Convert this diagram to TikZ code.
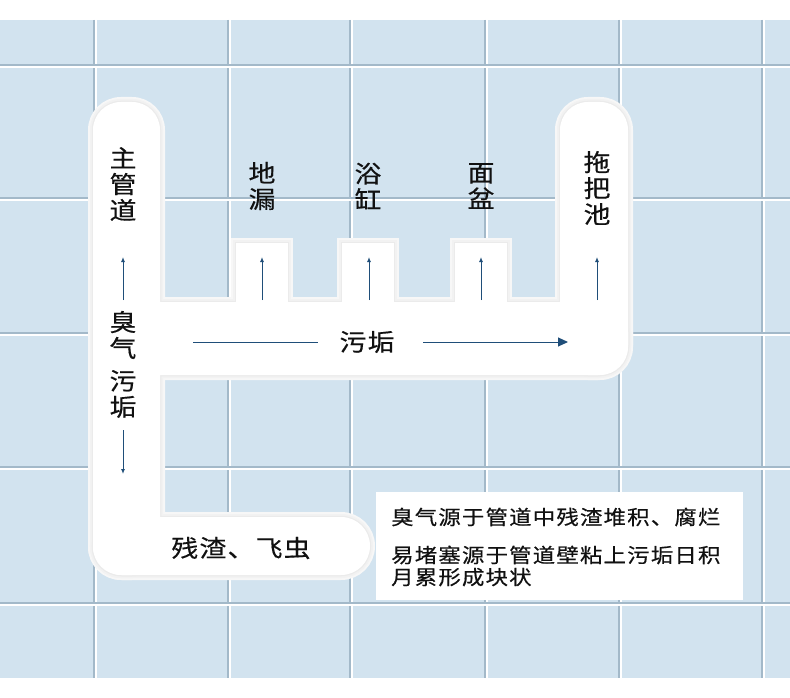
\documentclass[tikz,border=0pt]{standalone}
\usepackage{fontspec}
\setmainfont[FakeStretch=1.12,FakeBold=0.4]{Noto Sans CJK SC}
\usetikzlibrary{arrows.meta}
\definecolor{tile}{HTML}{D2E3EF}
\definecolor{grout}{HTML}{A3B9C9}
\definecolor{arr}{HTML}{1F4E79}
\definecolor{ink}{HTML}{111111}
\newcommand\pipeparts[1]{%
  \path[#1, rounded corners=28pt] (93,102) rectangle (160,575);
  \path[#1, rounded corners=29pt] (93,517) rectangle (370,575);
  \path[#1, rounded corners=30pt] (93,302) rectangle (628,375);
  \path[#1, rounded corners=28pt] (560,102) rectangle (628,375);
  \path[#1] (236,243) rectangle (288,310);
  \path[#1] (342,243) rectangle (394,310);
  \path[#1] (455,243) rectangle (507,310);
}
\begin{document}
\begin{tikzpicture}[x=1pt,y=-1pt,
  vtext/.style={align=center, text=ink, inner sep=0pt, font=\fontsize{24}{26}\selectfont},
  htext/.style={text=ink, inner sep=0pt, font=\fontsize{24}{26}\selectfont\addfontfeatures{LetterSpace=5}},
  boxtext/.style={text=ink, inner sep=0pt, anchor=west, align=left, font=\fontsize{20}{22}\selectfont\addfontfeatures{LetterSpace=6}},
  uparr/.style={draw=arr, line width=1pt, -{Latex[length=5pt,width=4pt]}},
  bigarr/.style={draw=arr, line width=1pt, -{Triangle[length=10pt,width=9pt]}},
  plain/.style={draw=arr, line width=1pt}]
\useasboundingbox (0,0) rectangle (790,698);
\fill[white] (0,0) rectangle (790,698);
\fill[tile] (0,20) rectangle (790,678);
\foreach \x in {94,228,350,485,619,762} {
  \draw[grout, line width=2pt] (\x,20) -- (\x,678);
  \draw[white, line width=1.2pt] (\x+2,20) -- (\x+2,678);
}
\foreach \y in {65,198,333,467,603} {
  \draw[grout, line width=2pt] (0,\y) -- (790,\y);
  \draw[white, line width=1.2pt] (0,\y+2) -- (790,\y+2);
}
% pipe with soft shadow
\pipeparts{draw=black!3, line width=10pt}
\pipeparts{draw=black!5, line width=6pt}
\pipeparts{draw=black!8, line width=2.5pt}
\pipeparts{fill=white}
% note box
\fill[white] (376,492) rectangle (743,600);
% labels
\node[vtext] (main) at (123,184) {主\\管\\道};
\node[vtext] (drain) at (262,186) {地\\漏};
\node[vtext] (tub) at (368,186) {浴\\缸};
\node[vtext] (basin) at (481,186) {面\\盆};
\node[vtext] (mop) at (597,188) {拖\\把\\池};
\node[vtext] (smell) at (123,335) {臭\\气};
\node[vtext] (dirtv) at (123,394) {污\\垢};
\node[htext] (dirth) at (367,342) {污垢};
\node[htext] (debris) at (241,548) {残渣、飞虫};
\node[boxtext] (note1) at (391,517) {臭气源于管道中残渣堆积、腐烂};
\node[boxtext] (note2) at (391,566) {易堵塞源于管道壁粘上污垢日积\\月累形成块状};
% arrows
\coordinate (m0) at (123,300); \coordinate (m1) at (123,257);
\coordinate (d0) at (262,300); \coordinate (d1) at (262,257);
\coordinate (t0) at (369,300); \coordinate (t1) at (369,257);
\coordinate (b0) at (481,300); \coordinate (b1) at (481,257);
\coordinate (p0) at (597,300); \coordinate (p1) at (597,257);
\coordinate (v0) at (123,430); \coordinate (v1) at (123,474);
\coordinate (h0) at (193,342); \coordinate (h1) at (318,342);
\coordinate (h2) at (423,342); \coordinate (h3) at (568,342);
\draw[uparr] (m0) -- (m1);
\draw[uparr] (d0) -- (d1);
\draw[uparr] (t0) -- (t1);
\draw[uparr] (b0) -- (b1);
\draw[uparr] (p0) -- (p1);
\draw[uparr] (v0) -- (v1);
\draw[plain] (h0) -- (h1);
\draw[bigarr] (h2) -- (h3);
\end{tikzpicture}
\end{document}
